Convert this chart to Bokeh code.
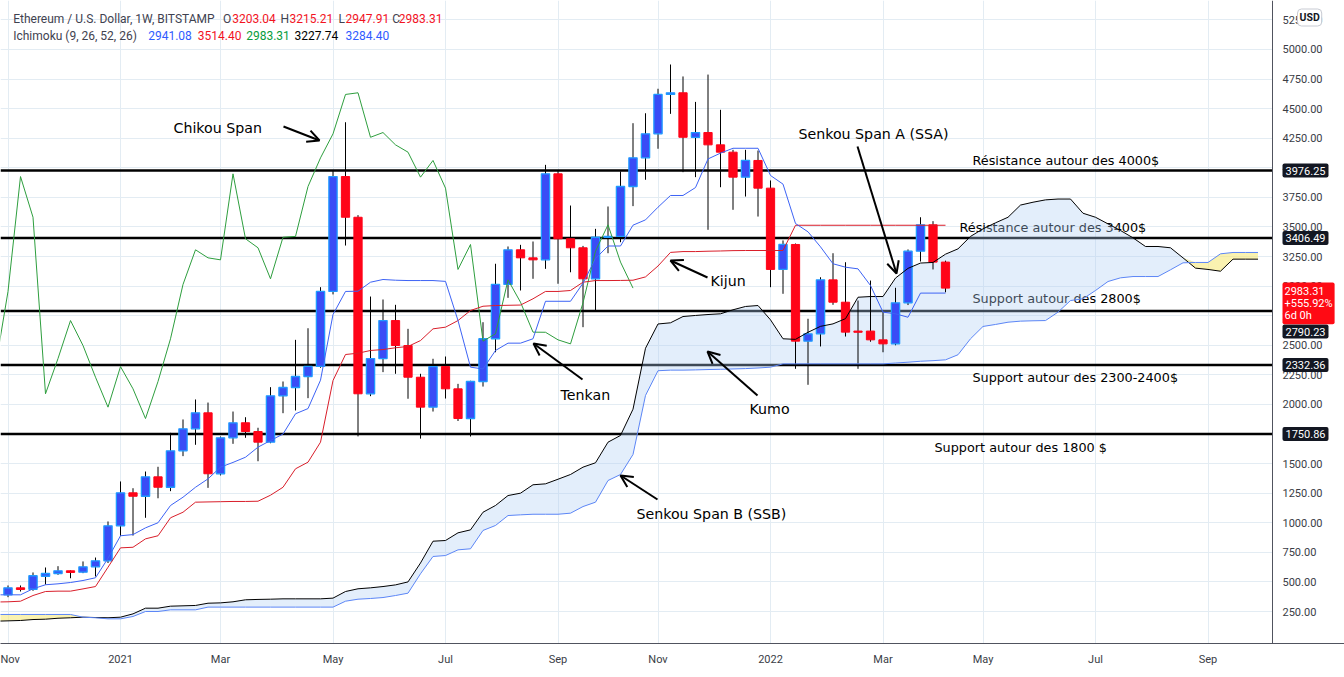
import numpy as np
from bokeh.plotting import figure
from bokeh.models import (Range1d, FixedTicker, NumeralTickFormatter, Label, Arrow, OpenHead, Span,
                          BoxAnnotation)
from bokeh.core.properties import value
from bokeh.embed import file_html
from bokeh.resources import INLINE

# ---------------- data (weekly ETH/USD, week 0 = week of 2020-11-02) ----------------
opens = [391, 450, 438, 548, 571, 594, 582, 628, 678, 974, 1253, 1224, 1388, 1300, 1608, 1794,
         1929, 1414, 1718, 1845, 1771, 1681, 2073, 2143, 2236, 2321, 2955, 3926, 3582, 2090, 2388,
         2709, 2498, 2230, 1977, 2320, 2132, 1881, 2194, 2555, 3014, 3307, 3239, 3222, 3949, 3400,
         3324, 3062, 3413, 3420, 3842, 4084, 4287, 4620, 4634, 4258, 4298, 4194, 4132, 3921, 4062,
         3828, 3141, 3352, 2535, 2597, 3053, 2864, 2620, 2620, 2546, 2512, 2859, 3295, 3518, 3203.04]
highs = [470, 470, 580, 622, 633, 598, 673, 706, 1011, 1349, 1292, 1433, 1473, 1760, 1873, 2042,
         2016, 1729, 1940, 1892, 1803, 2146, 2194, 2546, 2644, 2991, 3977, 4385, 3600, 2912, 2887,
         2842, 2639, 2259, 2386, 2405, 2174, 2200, 2695, 3189, 3335, 3349, 3377, 4025, 3972, 3681,
         3340, 3484, 3673, 3969, 4377, 4461, 4668, 4873, 4772, 4557, 4788, 4490, 4152, 4152, 4146,
         3893, 3386, 3360, 2724, 3075, 3278, 3202, 2878, 3047, 2780, 2986, 3310, 3582, 3549, 3215.21]
lows = [371, 419, 425, 478, 560, 531, 574, 546, 660, 890, 892, 1042, 1207, 1267, 1563, 1659,
        1295, 1400, 1667, 1718, 1520, 1672, 1926, 1949, 2053, 2310, 2930, 3343, 1730, 2070, 2273,
        2259, 2048, 1711, 1940, 2050, 1860, 1729, 2151, 2441, 2901, 2963, 3062, 3146, 3020, 3117,
        2653, 2794, 3278, 3371, 3676, 3899, 4161, 4456, 3963, 3921, 3476, 3836, 3645, 3757, 3588,
        2991, 2935, 2301, 2166, 2490, 2842, 2574, 2301, 2530, 2441, 2500, 2840, 3208, 3141, 2947.91]
closes = [450, 436, 552, 571, 594, 580, 628, 678, 974, 1253, 1224, 1388, 1300, 1608, 1794, 1929,
          1414, 1718, 1845, 1771, 1681, 2073, 2143, 2236, 2321, 2955, 3926, 3582, 2090, 2388, 2709,
          2498, 2230, 1977, 2320, 2132, 1881, 2194, 2555, 3014, 3307, 3239, 3222, 3949, 3400, 3324,
          3062, 3413, 3420, 3842, 4084, 4287, 4620, 4634, 4258, 4298, 4194, 4132, 3921, 4062, 3828,
          3141, 3352, 2535, 2597, 3053, 2864, 2611, 2610, 2546, 2512, 2859, 3295, 3518, 3203, 2983.31]
weeks = list(range(len(closes)))

# Ichimoku lines, weeks -1 .. 75
line_weeks = list(range(-1, 76))
tenkan = [391, 391, 391, 442, 476, 484, 495, 512, 535, 700, 890, 900, 957, 1000, 1146, 1216, 1300,
          1371, 1470, 1510, 1554, 1639, 1695, 1750, 1921, 1965, 2205, 2760, 2955, 2957, 3033, 3056,
          3050, 3047, 3047, 3047, 3040, 2709, 2315, 2300, 2456, 2518, 2518, 2555, 2872, 2872, 2872,
          3025, 3233, 3339, 3339, 3515, 3560, 3667, 3766, 3766, 3833, 4075, 4124, 4165, 4165, 4165,
          3935, 3862, 3529, 3459, 3332, 3189, 3160, 3146, 3005, 2780, 2766, 2737, 2941, 2941, 2941.08]
kijun = [330, 332, 337, 385, 419, 422, 422, 441, 461, 624, 788, 793, 864, 890, 1042, 1089, 1174,
         1176, 1178, 1180, 1180, 1182, 1233, 1300, 1456, 1512, 1681, 2202, 2422, 2433, 2456, 2464,
         2479, 2490, 2540, 2639, 2653, 2709, 2794, 2830, 2836, 2838, 2840, 2893, 2955, 2955, 2963,
         3033, 3047, 3047, 3048, 3050, 3078, 3170, 3285, 3292, 3292, 3295, 3297, 3300, 3301, 3301,
         3301, 3301, 3514.4, 3514.4, 3514.4, 3514.4, 3514.4, 3514.4, 3514.4, 3514.4, 3514.4,
         3514.4, 3514.4, 3514.4, 3514.4]
# lagging span: closes plotted 25 weeks back (weeks -1 .. 50)
chikou_weeks = line_weeks[:len(closes) - 24]
chikou = closes[24:]

# leading spans (cloud), weeks -1 .. 100
cloud_weeks = list(range(-1, 101))
ssa = [168, 171, 174, 182, 185, 193, 197, 202, 199, 197, 202, 230, 278, 278, 295, 298, 301, 320,
       323, 332, 349, 352, 354, 357, 357, 357, 357, 363, 419, 442, 450, 461, 475, 500, 660, 844,
       850, 915, 940, 1089, 1146, 1230, 1250, 1321, 1329, 1368, 1408, 1470, 1507, 1681, 1738, 1960,
       2475, 2680, 2690, 2743, 2752, 2760, 2766, 2800, 2828, 2836, 2715, 2555, 2550, 2610, 2660,
       2681, 2725, 2906, 2912, 2912, 3068, 3150, 3195, 3200, 3270, 3315, 3420, 3484, 3535, 3582,
       3685, 3709, 3729, 3736, 3736, 3616, 3582, 3526, 3470, 3408, 3335, 3335, 3324, 3239, 3152,
       3141, 3126, 3228, 3228, 3227.74]
ssb = [225, 225, 225, 225, 225, 225, 225, 202, 197, 188, 188, 208, 250, 250, 264, 264, 264, 287,
       287, 287, 287, 287, 287, 287, 287, 287, 287, 287, 337, 354, 360, 368, 385, 405, 569, 715,
       723, 771, 780, 935, 977, 1061, 1067, 1072, 1072, 1072, 1081, 1137, 1174, 1357, 1408, 1577,
       2076, 2285, 2290, 2290, 2292, 2295, 2297, 2300, 2303, 2308, 2315, 2343, 2343, 2343, 2343,
       2343, 2343, 2343, 2343, 2343, 2350, 2357, 2365, 2370, 2377, 2420, 2555, 2659, 2676, 2695,
       2704, 2707, 2709, 2780, 2878, 2893, 2963, 3039, 3070, 3081, 3081, 3081, 3138, 3197, 3200,
       3200, 3273, 3284.4, 3284.4, 3284.4]

month_ticks = [0, 9, 17, 26, 35, 44, 52, 61, 70, 78, 87, 96]
month_labels = ["Nov", "2021", "Mar", "May", "Jul", "Sep", "Nov", "2022", "Mar", "May", "Jul", "Sep"]
price_ticks = list(range(250, 5251, 250))

levels = [3976.25, 3406.49, 2790.23, 2332.36, 1750.86]
level_texts = ["Résistance autour des 4000$", "Résistance autour des 3400$",
               "Support autour des 2800$", "Support autour des 2300-2400$",
               "Support autour des 1800 $"]
change_pct = "+555.92%"
countdown = "6d 0h"

# ---------------- layout helpers (pixel -> data, annotations only) ----------------
def X(px):
    return (px - 7.5) / 12.5

def Y(py):
    return 250 + (611 - py) * 8.4517

SCALE_EDGE = 1272  # pixel where the price scale starts

p = figure(width=1344, height=677, output_backend="svg", toolbar_location=None,
           x_range=Range1d(X(0), X(1344)), y_range=Range1d(Y(643), Y(0)),
           y_axis_location="right", min_border_left=0, min_border_top=0,
           min_border_right=0, min_border_bottom=34)
p.background_fill_color = "white"
p.border_fill_color = "white"
p.outline_line_color = None

AX_FONT = "Roboto"
p.yaxis.fixed_location = X(SCALE_EDGE)
p.yaxis.ticker = FixedTicker(ticks=price_ticks)
p.yaxis.formatter = NumeralTickFormatter(format="0.00")
p.xaxis.ticker = FixedTicker(ticks=month_ticks)
p.xaxis.major_label_overrides = {t: l for t, l in zip(month_ticks, month_labels)}
for ax in (p.xaxis, p.yaxis):
    ax.major_tick_line_color = None
    ax.minor_tick_line_color = None
    ax.major_tick_out = 0
    ax.major_tick_in = 0
    ax.axis_line_color = "#50535e"
    ax.major_label_text_font = AX_FONT
    ax.major_label_text_font_size = "11px"
    ax.major_label_text_color = "#3a3d46"
p.yaxis.major_label_standoff = 10
p.xaxis.major_label_standoff = 9
p.xgrid.grid_line_color = "#e3ecf3"
p.ygrid.grid_line_color = "#e3ecf3"

# support / resistance levels (below the cloud)
for lv in levels:
    p.add_layout(Span(location=lv, dimension="width", line_color="black", line_width=2.5, level="underlay"))

# blank price-scale strip
p.add_layout(BoxAnnotation(left=X(SCALE_EDGE + 0.5), fill_color="white", fill_alpha=1.0,
                           line_color=None, level="underlay"))

# texts for the levels (drawn before the cloud so the cloud tints them)
lt_x = [X(972), X(959), X(972), X(972), X(934)]
lt_y = [Y(160), Y(227), Y(298), Y(377), Y(447)]
p.text(x=lt_x, y=lt_y, text=level_texts, text_font=value("DejaVu Sans"), text_font_size="12.8px",
       text_baseline="middle", text_align="left", text_color="black")

# cloud
ssa_a = np.array(ssa, dtype=float)
ssb_a = np.array(ssb, dtype=float)
upper = np.maximum(ssa_a, ssb_a)
p.varea(x=cloud_weeks, y1=ssb_a, y2=upper, fill_color="#afcef3", fill_alpha=0.35)
p.varea(x=cloud_weeks, y1=ssa_a, y2=upper, fill_color="#f7ea7c", fill_alpha=0.6)

# candles
o = np.array(opens); c = np.array(closes); h = np.array(highs); l = np.array(lows)
w = np.array(weeks)
up = c >= o
p.segment(x0=w, y0=l, x1=w, y1=h, line_color="black", line_width=1)
p.vbar(x=w[up], width=0.66, bottom=o[up], top=c[up], fill_color="#3a4cf6", line_color="#1f9bff", line_width=1.3)
p.vbar(x=w[~up], width=0.66, bottom=c[~up], top=o[~up], fill_color="#ff0418", line_color="#ff0418", line_width=1)

# ichimoku lines
p.line(cloud_weeks, ssa, line_color="black", line_width=1)
p.line(cloud_weeks, ssb, line_color="#5c86f6", line_width=1)
p.line(chikou_weeks, chikou, line_color="#2e9e3e", line_width=1)
p.line(line_weeks, kijun, line_color="#d91e2a", line_width=1)
p.line(line_weeks, tenkan, line_color="#3d63f5", line_width=1)

# annotations: labels and arrows
ANN_FONT = "DejaVu Sans"
ann = [("Chikou Span", 173, 127), ("Tenkan", 560, 394), ("Kijun", 710, 280), ("Kumo", 749, 408),
       ("Senkou Span A (SSA)", 798, 133), ("Senkou Span B (SSB)", 636, 513)]
for t, px, py in ann:
    p.add_layout(Label(x=X(px), y=Y(py), text=t, text_font=ANN_FONT, text_font_size="14.2px",
                       text_baseline="middle", text_align="left", text_color="black"))

arrows = [((283, 126), (319, 140)), ((582, 379), (533, 343)), ((707, 277), (670, 260)),
          ((757, 395), (707, 351)), ((857, 146), (896, 273)), ((657, 499), (620, 475))]
for (x0, y0), (x1, y1) in arrows:
    p.add_layout(Arrow(x_start=X(x0), y_start=Y(y0), x_end=X(x1), y_end=Y(y1),
                       line_color="black", line_width=2,
                       end=OpenHead(size=12, line_color="black", line_width=2)))

# header legend
GRAY = "#3f4250"; RED = "#f2131f"; BLUE = "#2f5cff"; GREEN = "#089c3c"
hdr = [("Ethereum / U.S. Dollar, 1W, BITSTAMP", 12.7, 18, GRAY),
       ("O", 222.5, 18, GRAY), ("3203.04", 231.7, 18, RED),
       ("H", 280, 18, GRAY), ("3215.21", 289, 18, RED),
       ("L", 338, 18, GRAY), ("2947.91", 345, 18, RED),
       ("C", 391.7, 18, GRAY), ("2983.31", 398.3, 18, RED),
       ("Ichimoku (9, 26, 52, 26)", 12.7, 35, GRAY),
       ("2941.08", 147.7, 35, BLUE), ("3514.40", 197.3, 35, RED), ("2983.31", 245.7, 35, GREEN),
       ("3227.74", 294, 35, "black"), ("3284.40", 345, 35, BLUE)]
for t, px, py, col in hdr:
    p.add_layout(Label(x=X(px), y=Y(py), text=t, text_font=AX_FONT,
                       text_font_size="12px", text_baseline="middle", text_align="left",
                       text_color=col))

# price labels on the right scale
box_pos = [3976.25, 3406.49, Y(331), 2332.36, 1750.86]
for lv, yy in zip(levels, box_pos):
    p.add_layout(Label(x=X(1282), y=yy, text=f"{lv:.2f}", text_font=AX_FONT,
                       text_font_size="11px", text_baseline="middle", text_align="left",
                       text_color="white", background_fill_color="#131722", padding=3,
                       border_radius=2))
p.add_layout(Label(x=X(1282), y=Y(282), text=f"{closes[-1]:.2f}\n{change_pct}\n{countdown}",
                   text_font=AX_FONT, text_font_size="11px", text_baseline="top", text_align="left",
                   text_line_height=0.95, text_color="white", background_fill_color="#ff0a14",
                   padding=2, border_radius=2))
p.add_layout(Label(x=X(1297), y=Y(17), text="USD", text_font=AX_FONT,
                   text_font_size="10.5px", text_font_style="bold", text_baseline="middle",
                   text_align="left", text_color="#131722", background_fill_color="white",
                   border_line_color="#c8cbd3", padding=2, border_radius=4))

open("out.html", "w").write(file_html(p, INLINE))
